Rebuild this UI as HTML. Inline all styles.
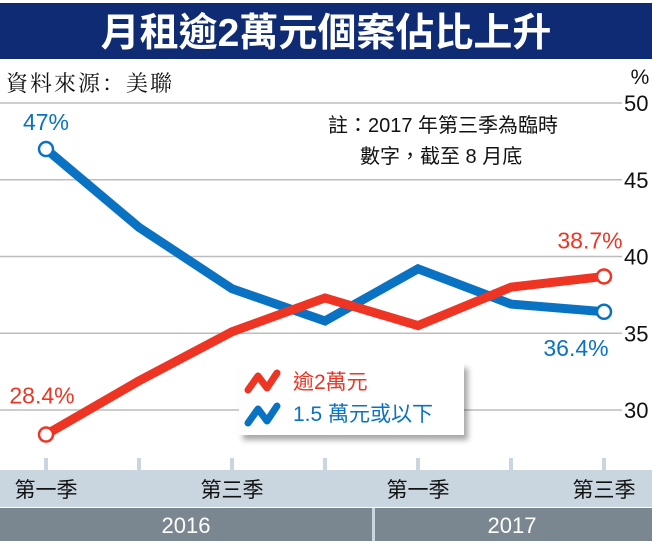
<!DOCTYPE html>
<html><head><meta charset="utf-8"><style>
body{margin:0;width:652px;height:541px;overflow:hidden;background:#fff;font-family:"Liberation Sans","Noto Sans CJK TC",sans-serif;}
svg text{font-family:"Liberation Sans","Noto Sans CJK TC",sans-serif;}
</style></head><body>
<svg width="652" height="541">
<defs><filter id="sh" x="-10%" y="-10%" width="130%" height="140%"><feDropShadow dx="4" dy="5" stdDeviation="3" flood-color="#000" flood-opacity="0.35"/></filter></defs>
<rect x="0" y="3" width="652" height="56" fill="#0f2b73"/>
<text x="326" y="46" text-anchor="middle" fill="#fff" font-size="39" font-weight="bold">月租逾2萬元個案佔比上升</text>
<text x="6" y="91" font-size="22" letter-spacing="2" fill="#111" style="font-family:'Liberation Serif','Noto Serif CJK SC',serif">資料來源：美聯</text>
<text x="640" y="84" text-anchor="middle" font-size="21" fill="#111">%</text>
<g id="grid"></g>
<text x="328" y="132" font-size="20" fill="#111">註：2017 年第三季為臨時</text>
<text x="360" y="163" font-size="20" fill="#111">數字，截至 8 月底</text>
<rect x="0" y="470" width="652" height="37" fill="#c9d6df"/>
<rect x="0" y="508" width="652" height="33" fill="#7a8791"/>
<rect x="372" y="508" width="3" height="33" fill="#c9d6df"/>
<text x="186" y="533" text-anchor="middle" font-size="22" fill="#fff">2016</text>
<text x="512" y="533" text-anchor="middle" font-size="22" fill="#fff">2017</text>
<g id="xaxis"></g>
<g id="series"></g>
<g>
<rect x="239" y="363" width="225" height="72" fill="#fff" filter="url(#sh)"/>
<polyline points="248,390 258,376 267,388 277,373" fill="none" stroke="#ee3524" stroke-width="7" stroke-linecap="round" stroke-linejoin="round"/>
<text x="293" y="389" font-size="21" fill="#ee3524">逾2萬元</text>
<polyline points="248,423 258,409 267,421 277,406" fill="none" stroke="#0a72c2" stroke-width="7" stroke-linecap="round" stroke-linejoin="round"/>
<text x="293" y="421" font-size="21" fill="#0a72c2">1.5 萬元或以下</text>
</g>
</svg>
<script>
const categories=["2016Q1","2016Q2","2016Q3","2016Q4","2017Q1","2017Q2","2017Q3"];
const xLabels=["第一季","","第三季","","第一季","","第三季"];
const redValues=[28.4,31.9,35.1,37.3,35.5,38.0,38.7];
const blueValues=[47,41.9,37.9,35.8,39.2,36.9,36.4];
const yTicks=[30,35,40,45,50];
const NS="http://www.w3.org/2000/svg";
function y(v){return 410-(v-30)*(410-103)/20;}
function x(i){return 46+i*93;}
function mk(tag,attrs,parent){const e=document.createElementNS(NS,tag);for(const k in attrs)e.setAttribute(k,attrs[k]);parent.appendChild(e);return e;}
const grid=document.getElementById('grid');
yTicks.forEach(t=>{
 const l=mk('line',{x1:0,x2:622,y1:y(t),y2:y(t),stroke:'#bdbdbd','stroke-width':1.5},grid);
 
 
 const tx=mk('text',{x:624,y:y(t)+8,'font-size':22,fill:'#111'},grid);
 tx.textContent=t;
 
 
});
const xa=document.getElementById('xaxis');
categories.forEach((c,i)=>{
 const l=mk('line',{x1:x(i),x2:x(i),y1:458,y2:470,stroke:'#c9d6df','stroke-width':4},xa);
 
 
 if(xLabels[i]){const t=mk('text',{x:x(i),y:497,'text-anchor':'middle','font-size':21,fill:'#111'},xa);t.textContent=xLabels[i];
 
 }
});
const s=document.getElementById('series');
function draw(vals,color,name){
 const p=mk('polyline',{points:vals.map((v,i)=>x(i)+','+y(v)).join(' '),fill:'none',stroke:color,'stroke-width':9,'stroke-linejoin':'miter'},s);
 
 
 [0,vals.length-1].forEach(i=>{
  const c=mk('circle',{cx:x(i),cy:y(vals[i]),r:7,fill:'#fff',stroke:color,'stroke-width':2.5},s);
  
  
 });
}
draw(blueValues,'#0a72c2','blue-series');
draw(redValues,'#ee3524','red-series');
function lab(txt,xx,yy,color,name,anchor){const t=mk('text',{x:xx,y:yy,'font-size':23,fill:color,'text-anchor':anchor},s);t.textContent=txt;
 
 }
const n=redValues.length-1;
lab(blueValues[0]+'%',46,y(blueValues[0])-19,'#0a72c2','blue-start-label','middle');
lab(redValues[0]+'%',42,y(redValues[0])-31,'#ee3524','red-start-label','middle');
lab(redValues[n]+'%',590,y(redValues[n])-28,'#ee3524','red-end-label','middle');
lab(blueValues[n]+'%',576,y(blueValues[n])+44,'#0a72c2','blue-end-label','middle');
</script>
</body></html>
